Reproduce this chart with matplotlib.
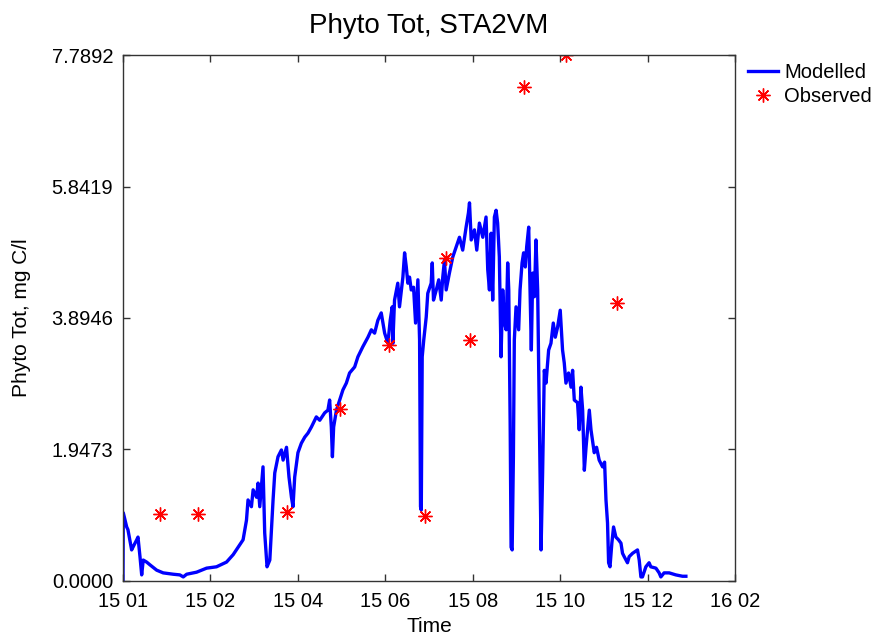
import numpy as np
import matplotlib
matplotlib.use("Agg")
import matplotlib.pyplot as plt

plt.rcParams['font.family'] = ['Liberation Sans', 'DejaVu Sans']

# modelled series: days since 1 Jan 2015, mg C/l
mod_day = [0, 0.2, 2.4, 3.2, 5.6, 7.1, 8.9, 9.7, 11.0, 12.1, 13.1, 15.3, 17.4, 21.8, 26.0,
           32.5, 36.8, 39.0, 41.2, 47.6, 54.1, 60.5, 67.0, 71.3, 74.5, 77.7, 79.9, 80.9,
           83.1, 84.2, 86.4, 87.4, 88.5, 90.6, 91.7, 93.2, 95.0, 97.1, 98.2, 100.3, 102.5,
           103.6, 105.8, 107.4, 109.0, 110.0, 111.1, 113.2, 115.4, 117.6, 119.7, 121.9,
           125.1, 127.3, 130.5, 132.6, 133.7, 134.8, 135.5, 136.3, 138.1, 140.2, 142.3,
           144.5, 146.6, 149.9, 152.0, 155.2, 158.5, 160.7, 162.8, 164.9, 167.1, 169.3,
           171.4, 172.9, 174.2, 174.6, 175.7, 177.8, 178.9, 181.1, 182.2, 183.3, 184.3,
           185.4, 186.5, 188.0, 189.3, 190.8, 191.9, 192.5, 193.0, 193.6, 194.6, 196.2,
           197.2, 199.4, 200.1, 200.9, 202.7, 204.3, 205.9, 206.9, 208.0, 209.1, 211.2,
           213.4, 215.6, 217.7, 219.8, 222.0, 223.5, 224.2, 225.3, 227.4, 228.9, 230.6,
           232.8, 234.9, 236.0, 237.1, 238.2, 239.2, 240.3, 241.4, 242.4, 243.5, 244.6,
           245.7, 246.8, 247.9, 248.9, 249.6, 250.5, 251.1, 251.8, 252.6, 253.2, 254.3,
           256.0, 256.9, 258.2, 259.2, 260.3, 261.2, 262.5, 263.4, 264.2, 265.1, 266.2,
           267.2, 268.3, 269.4, 270.5, 271.5, 272.6, 273.7, 275.4, 276.9, 278.4, 279.7,
           281.2, 282.9, 284.4, 285.5, 286.6, 288.3, 289.9, 290.9, 292.0, 294.1, 295.2,
           296.3, 297.4, 298.5, 299.6, 301.7, 302.8, 304.9, 306.4, 308.1, 310.3, 311.6,
           312.5, 313.5, 314.2, 315.1, 316.3, 317.4, 318.9, 320.6, 322.2, 323.2, 324.3,
           326.4, 327.5, 329.7, 332.9, 334.0, 335.1, 336.1, 338.3, 340.4, 341.5, 344.8,
           346.9, 348.0, 350.1, 353.4, 357.7, 362.0, 364.2]
mod_val = [0.00, 1.01, 0.80, 0.76, 0.46, 0.53, 0.61, 0.65, 0.36, 0.09, 0.31, 0.28, 0.24, 0.16, 0.12,
           0.10, 0.09, 0.06, 0.10, 0.13, 0.19, 0.21, 0.28, 0.39, 0.50, 0.61, 0.90, 1.20,
           1.10, 1.35, 1.24, 1.45, 1.10, 1.69, 0.71, 0.21, 0.31, 1.20, 1.60, 1.84, 1.94,
           1.79, 1.98, 1.54, 1.24, 1.10, 1.54, 1.90, 2.04, 2.13, 2.19, 2.28,
           2.43, 2.38, 2.49, 2.53, 2.68, 2.28, 1.84, 2.28, 2.53, 2.68, 2.83,
           2.93, 3.08, 3.17, 3.32, 3.47, 3.61, 3.72, 3.67, 3.86, 3.97, 3.67,
           3.52, 3.86, 4.06, 3.52, 4.16, 4.41, 4.06, 4.50, 4.86, 4.65, 4.41,
           4.50, 4.31, 4.35, 3.82, 4.46, 3.57, 1.10, 1.05, 3.32, 3.57, 3.91,
           4.26, 4.41, 4.71, 4.16, 4.31, 4.46, 4.16, 4.50, 4.75, 4.31, 4.56,
           4.80, 4.95, 5.09, 4.90, 5.24, 5.45, 5.60, 5.05, 5.20, 4.90, 5.30,
           5.09, 5.39, 4.61, 4.31, 5.15, 4.16, 5.39, 5.49, 5.30, 4.80, 3.32,
           4.31, 3.82, 3.72, 4.71, 4.31, 2.34, 0.50, 0.46, 1.84, 3.57, 4.06,
           3.72, 4.31, 4.71, 4.86, 4.65, 4.95, 5.24, 4.31, 3.42, 4.56, 4.21,
           5.05, 4.31, 2.34, 0.46, 1.60, 3.12, 2.93, 3.42, 3.52, 3.82, 3.61,
           3.76, 4.01, 3.42, 3.23, 2.93, 3.08, 2.87, 3.12, 2.68, 2.64, 2.24,
           2.87, 2.53, 1.64, 1.98, 2.53, 2.24, 1.90, 1.98, 1.79, 1.69, 1.76,
           1.20, 0.86, 0.27, 0.21, 0.56, 0.80, 0.65, 0.61, 0.56, 0.41, 0.36,
           0.27, 0.36, 0.41, 0.46, 0.31, 0.06, 0.06, 0.21, 0.27, 0.21, 0.19,
           0.12, 0.06, 0.12, 0.12, 0.09, 0.07, 0.07]

obs_day = [23.9, 48.4, 105.9, 140.2, 171.8, 195.1, 208.7, 224.8, 259.7, 286.8, 319.8]
obs_val = [0.99, 0.99, 1.02, 2.55, 3.49, 0.96, 4.78, 3.57, 7.32, 7.79, 4.12]

xmax = 396
xtick_labels = ['15 01', '15 02', '15 04', '15 06', '15 08', '15 10', '15 12', '16 02']
ymax = 7.7892

fig = plt.figure(figsize=(8.71, 6.39), dpi=100)
ax = fig.add_axes([0.1412, 0.0908, 0.7027, 0.8231])

ax.plot(mod_day, mod_val, color='#0000ff', linewidth=2.4, label='Modelled')
ax.plot(obs_day, obs_val, linestyle='none', marker=(8, 2, 0), markersize=10,
        markeredgewidth=1.0, color='#ff0000', label='Observed')

ax.set_xlim(0, xmax)
ax.set_ylim(0, ymax)
ax.set_xticks(np.linspace(0, xmax, len(xtick_labels)))
ax.set_xticklabels(xtick_labels)
yt = np.linspace(0, ymax, 5)
ax.set_yticks(yt)
ax.set_yticklabels(['%.4f' % v for v in yt])
ax.tick_params(direction='in', length=5, width=1, top=True, right=True,
               labelsize=14.5, colors='#333333', labelcolor='black')
ax.tick_params(axis='x', pad=8)
ax.tick_params(axis='y', pad=7)
for s in ax.spines.values():
    s.set_color('#333333')
    s.set_linewidth(1)

ax.set_title('Phyto Tot, STA2VM', fontsize=20, pad=16)
ax.set_xlabel('Time', fontsize=15, labelpad=4)
ax.set_ylabel('Phyto Tot, mg C/l', fontsize=15, labelpad=15)

ax.legend(loc='upper left', bbox_to_anchor=(1.008, 1.0), frameon=False, fontsize=14.5,
          handlelength=1.5, handletextpad=0.3, labelspacing=0.25, borderaxespad=0.0)

fig.savefig('out.png', dpi=100)
